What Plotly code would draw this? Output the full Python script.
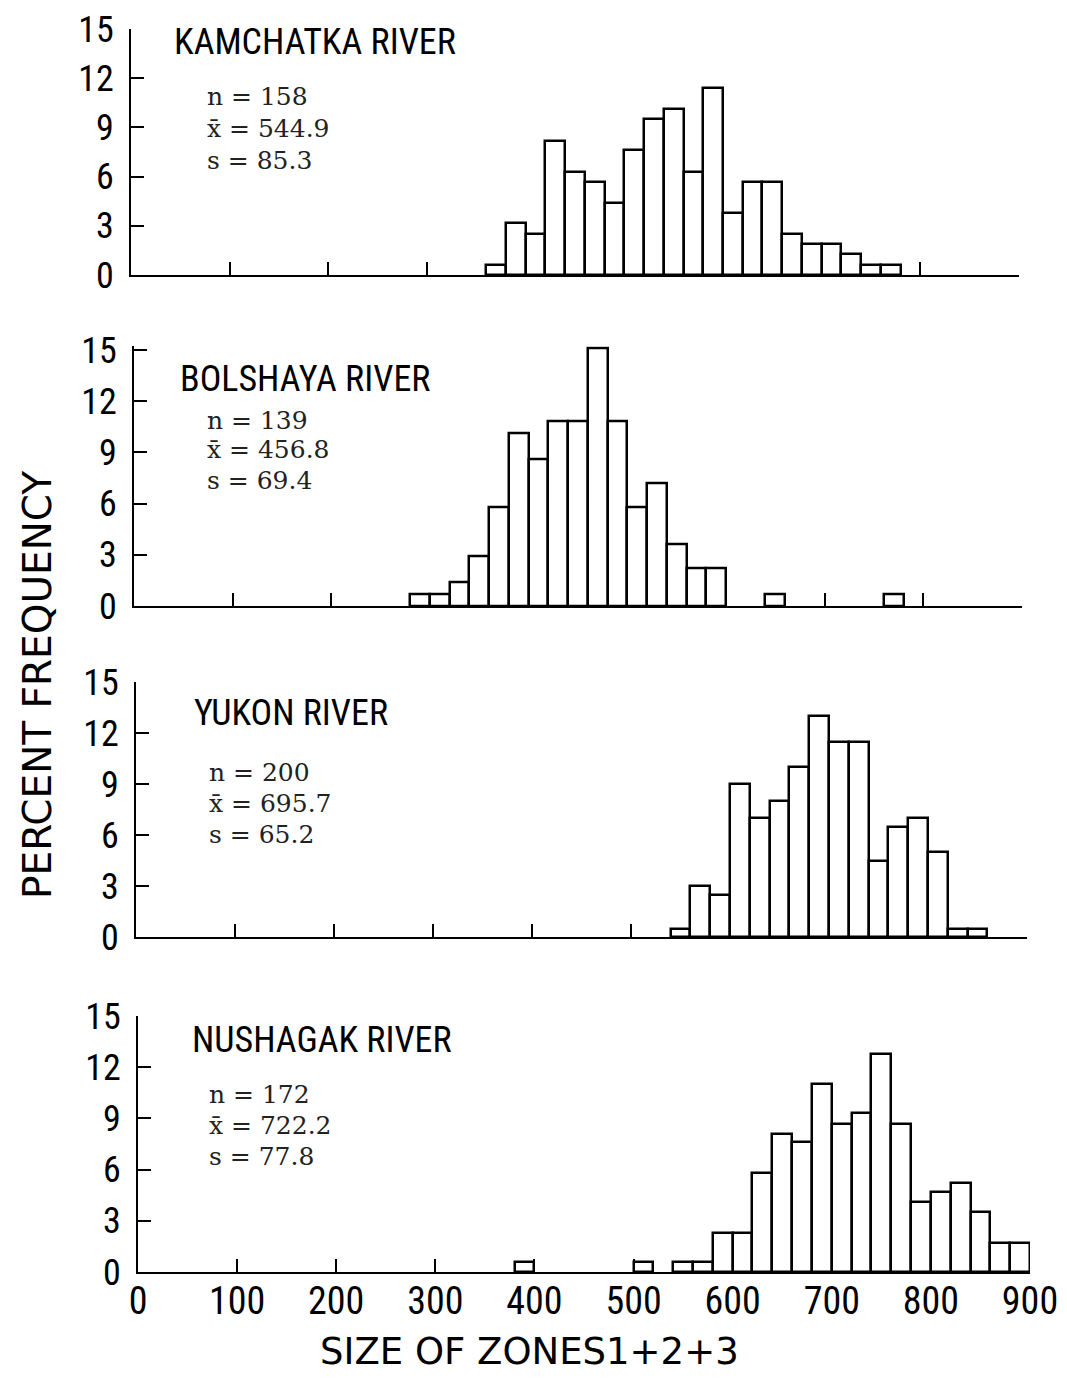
import plotly.graph_objects as go

# ---------------- data ----------------
river_names = ["KAMCHATKA RIVER", "BOLSHAYA RIVER", "YUKON RIVER", "NUSHAGAK RIVER"]
n_values = ["158", "139", "200", "172"]
mean_values = ["544.9", "456.8", "695.7", "722.2"]
sd_values = ["85.3", "69.4", "65.2", "77.8"]

bin_width = 20

kamchatka_lower = [360, 380, 400, 420, 440, 460, 480, 500, 520, 540, 560, 580, 600, 620,
                   640, 660, 680, 700, 720, 740, 760]
kamchatka_pct = [0.6, 3.2, 2.5, 8.2, 6.3, 5.7, 4.4, 7.6, 9.5, 10.1, 6.3, 11.4, 3.8, 5.7,
                 5.7, 2.5, 1.9, 1.9, 1.3, 0.6, 0.6]

bolshaya_lower = [280, 300, 320, 340, 360, 380, 400, 420, 440, 460, 480, 500, 520, 540,
                  560, 580, 640, 760]
bolshaya_pct = [0.7, 0.7, 1.4, 2.9, 5.8, 10.1, 8.6, 10.8, 10.8, 15.1, 10.8, 5.8, 7.2, 3.6,
                2.2, 2.2, 0.7, 0.7]

yukon_lower = [540, 560, 580, 600, 620, 640, 660, 680, 700, 720, 740, 760, 780, 800,
               820, 840]
yukon_pct = [0.5, 3.0, 2.5, 9.0, 7.0, 8.0, 10.0, 13.0, 11.5, 11.5, 4.5, 6.5, 7.0, 5.0,
             0.5, 0.5]

nushagak_lower = [380, 500, 540, 560, 580, 600, 620, 640, 660, 680, 700, 720, 740, 760,
                  780, 800, 820, 840, 860, 880]
nushagak_pct = [0.6, 0.6, 0.6, 0.6, 2.3, 2.3, 5.8, 8.1, 7.6, 11.0, 8.7, 9.3, 12.8, 8.7,
                4.1, 4.7, 5.2, 3.5, 1.7, 1.7]

x_tick_values = [0, 100, 200, 300, 400, 500, 600, 700, 800, 900]
x_tick_labels = ["0", "100", "200", "300", "400", "500", "600", "700", "800", "900"]
y_tick_values = [0, 3, 6, 9, 12, 15]
y_tick_labels = ["0", "3", "6", "9", "12", "15"]

x_title = "SIZE OF ZONES1+2+3"
y_title = "PERCENT FREQUENCY"

lowers = [kamchatka_lower, bolshaya_lower, yukon_lower, nushagak_lower]
pcts = [kamchatka_pct, bolshaya_pct, yukon_pct, nushagak_pct]

# ---------------- layout geometry ----------------
# all positions below are given in page pixels; the figure sits 8px in (body margin)
OFF = 8
W, H = 1067, 1395
PAGE_L, PAGE_R, PAGE_T, PAGE_B = 131, 1030, 29, 1272
ML = PAGE_L - OFF
MT = PAGE_T - OFF
MR = W - (PAGE_R - OFF)
MB = H - (PAGE_B - OFF)
PW = W - ML - MR
PH = H - MT - MB


def px(x, y):
    return (x - PAGE_L) / PW, (PAGE_B - y) / PH


# panel page-pixel boxes: (x at 0, x at 900, y at 15, y at 0)
panel_boxes = [
    (131, 1019, 29, 275),
    (134, 1022, 350, 606),
    (136, 1027, 682, 937),
    (138, 1030, 1016, 1272),
]
title_pos = [(172, 42), (178, 379), (192, 713), (190, 1040)]
stat_pos = [(205, 97, 31.5), (205, 420, 30), (207, 772, 31), (207, 1094, 31)]

TICK_FONT = "Liberation Sans Narrow, Roboto Condensed, Arial Narrow, DejaVu Sans Condensed, sans-serif"
STAT_FONT = "DejaVu Serif, Liberation Serif, serif"

fig = go.Figure()
layout = dict(
    width=W, height=H,
    margin=dict(l=ML, r=MR, t=MT, b=MB, autoexpand=False),
    plot_bgcolor="white", paper_bgcolor="white",
    showlegend=False, bargap=0,
)
annotations = []

for i in range(4):
    xa = "x" if i == 0 else f"x{i+1}"
    ya = "y" if i == 0 else f"y{i+1}"
    fig.add_trace(go.Bar(
        x=lowers[i], y=pcts[i], width=bin_width, offset=0,
        marker=dict(color="white", line=dict(color="black", width=2.5)),
        xaxis=xa, yaxis=ya, hoverinfo="skip",
    ))
    x0, x1, yt, yb = panel_boxes[i]
    ytop_val = max(15, max(pcts[i]) + 0.12)
    per_unit = (yb - yt) / 15
    yt_ext = yt - (ytop_val - 15) * per_unit
    dx0, _ = px(x0, 0)
    dx1, _ = px(x1, 0)
    _, dy1 = px(0, yt_ext)
    _, dy0 = px(0, yb)
    xkey = "xaxis" if i == 0 else f"xaxis{i+1}"
    ykey = "yaxis" if i == 0 else f"yaxis{i+1}"
    layout[xkey] = dict(
        domain=[max(0, dx0), min(1, dx1)], anchor=ya, range=[0, 900],
        showgrid=False, zeroline=False, showline=True, linecolor="black", linewidth=2,
        ticks="inside", ticklen=13, tickwidth=2, tickcolor="black",
        tickvals=x_tick_values, ticktext=x_tick_labels,
        showticklabels=(i == 3), automargin=False, ticklabeloverflow="allow",
        tickfont=dict(family=TICK_FONT, size=38, color="black"),
        ticklabelstandoff=-6,
    )
    layout[ykey] = dict(
        domain=[max(0, dy0), min(1, dy1)], anchor=xa, range=[0, ytop_val],
        showgrid=False, zeroline=False, showline=True, linecolor="black", linewidth=2,
        ticks="inside", ticklen=13, tickwidth=2, tickcolor="black",
        tickvals=y_tick_values, ticktext=y_tick_labels, automargin=False,
        ticklabeloverflow="allow",
        tickfont=dict(family=TICK_FONT, size=36, color="black"),
        ticklabelstandoff=8,
    )
    # river title
    tx, ty = px(*title_pos[i])
    annotations.append(dict(
        text=river_names[i], x=tx, y=ty, xref="paper", yref="paper",
        xanchor="left", yanchor="middle", showarrow=False,
        font=dict(family=TICK_FONT, size=36, color="black"),
    ))
    # statistics
    sx, sy, dy = stat_pos[i]
    lines = [f"n = {n_values[i]}", f"x\u0304 = {mean_values[i]}", f"s = {sd_values[i]}"]
    for k, txt in enumerate(lines):
        ax_, ay_ = px(sx, sy + k * dy)
        annotations.append(dict(
            text=txt, x=ax_, y=ay_, xref="paper", yref="paper",
            xanchor="left", yanchor="middle", showarrow=False,
            font=dict(family=STAT_FONT, size=25, color="#222"),
        ))

# axis titles
tx, ty = px(529, 1351)
annotations.append(dict(
    text=x_title, x=tx, y=ty, xref="paper", yref="paper",
    xanchor="center", yanchor="middle", showarrow=False,
    font=dict(family="DejaVu Sans, sans-serif", size=37, color="black"),
))
tx, ty = px(38, 685)
annotations.append(dict(
    text=y_title, x=tx, y=ty, xref="paper", yref="paper",
    xanchor="center", yanchor="middle", showarrow=False, textangle=-90,
    font=dict(family="DejaVu Sans, sans-serif", size=39, color="black"),
))

layout["annotations"] = annotations
fig.update_layout(**layout)
fig.write_html("out.html")
